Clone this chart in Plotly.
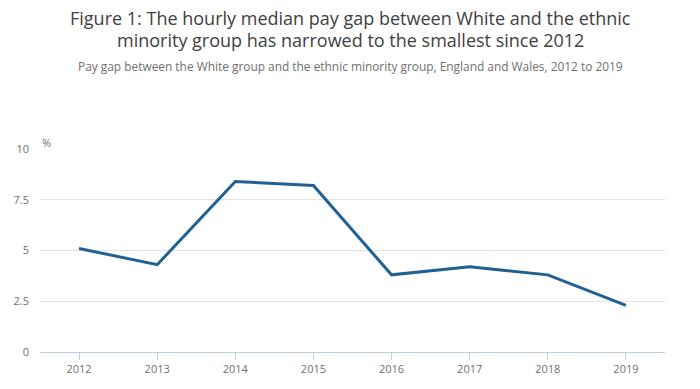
import plotly.graph_objects as go

years = ["2012", "2013", "2014", "2015", "2016", "2017", "2018", "2019"]
pay_gap = [5.1, 4.3, 8.4, 8.2, 3.8, 4.2, 3.8, 2.3]
y_ticks = [0, 2.5, 5, 7.5, 10]
y_tick_labels = ["0", "2.5", "5", "7.5", "10"]

title_line1 = "Figure 1: The hourly median pay gap between White and the ethnic"
title_line2 = "minority group has narrowed to the smallest since 2012"
subtitle_text = ("Pay gap between the White group and the ethnic minority group, "
                 "England and Wales, 2012 to 2019")

# The page body adds an 8px offset; the figure is sized to fit the window.
OFF = 8
W, H = 700 - OFF, 389 - OFF
L, R, T, B = 40 - OFF, 35, 149 - OFF, 37
pw = W - L - R
ph = H - T - B


def py(page_y):
    return (H - B - (page_y - OFF)) / ph


def px(page_x):
    return (page_x - OFF - L) / pw


fig = go.Figure()
fig.add_trace(go.Scatter(
    x=years, y=pay_gap, mode="lines",
    line=dict(color="#206095", width=3),
    hoverinfo="x+y",
))

title_font = dict(size=18, color="#414042", family="Open Sans")
fig.update_layout(
    width=W, height=H,
    margin=dict(l=L, r=R, t=T, b=B, autoexpand=False),
    paper_bgcolor="white", plot_bgcolor="white",
    font=dict(family="Open Sans", color="#707070", size=11),
    showlegend=False,
    xaxis=dict(type="category", showgrid=False, showline=True,
               linecolor="#bfcde6", linewidth=1,
               ticks="outside", ticklen=7, tickcolor="#bfcde6",
               tickfont=dict(size=11, color="#707070"),
               range=[-0.5, 7.5], fixedrange=True, automargin=False),
    yaxis=dict(range=[0, 10], tickvals=y_ticks, ticktext=y_tick_labels,
               showgrid=True, gridcolor="#e3e3e3", gridwidth=1,
               zeroline=False, showline=False, ticks="",
               ticklabelstandoff=10, automargin=False,
               tickfont=dict(size=11, color="#707070"), fixedrange=True),
    annotations=[
        dict(text=title_line1, xref="paper", yref="paper",
             x=px(350), y=py(18), xanchor="center", yanchor="middle",
             showarrow=False, font=title_font),
        dict(text=title_line2, xref="paper", yref="paper",
             x=px(350), y=py(40), xanchor="center", yanchor="middle",
             showarrow=False, font=title_font),
        dict(text=subtitle_text, xref="paper", yref="paper",
             x=px(350), y=py(66), xanchor="center", yanchor="middle",
             showarrow=False, font=dict(size=11.9, color="#707070")),
        dict(text="%", xref="paper", yref="paper", x=px(40), y=py(142),
             xanchor="left", yanchor="middle", showarrow=False,
             font=dict(size=11, color="#707070")),
    ],
)

fig.write_html("out.html")
